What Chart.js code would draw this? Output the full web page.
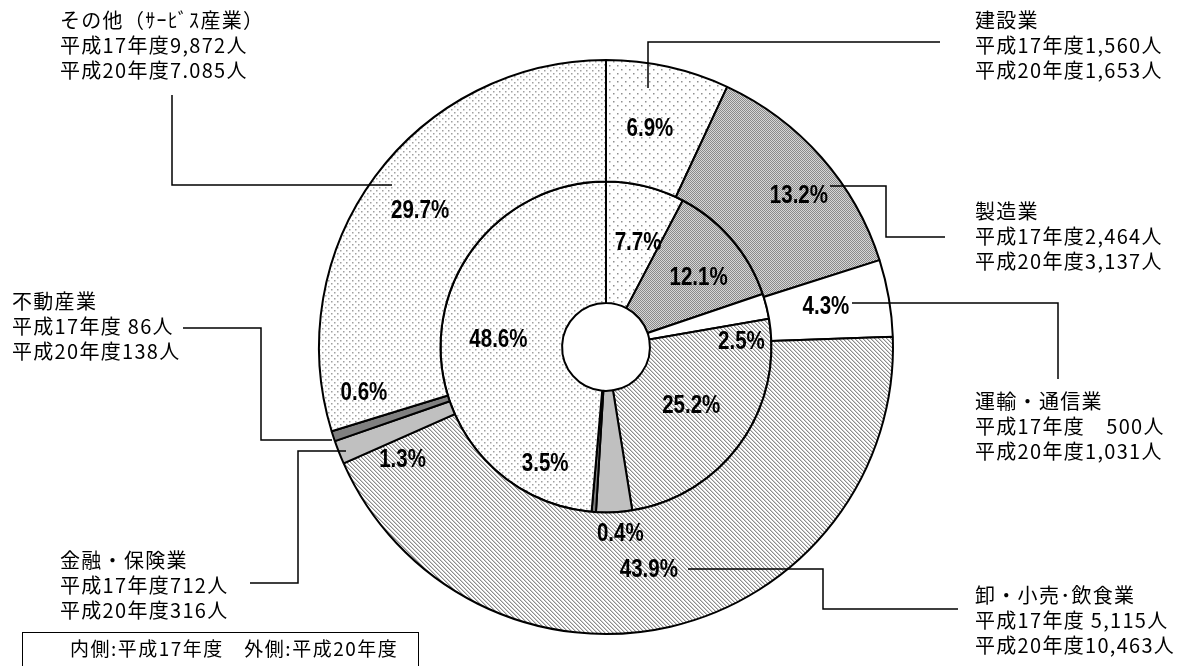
<!DOCTYPE html>
<html lang="ja">
<head>
<meta charset="utf-8">
<script src="https://cdn.jsdelivr.net/npm/chart.js@4/dist/chart.umd.min.js"></script>
<style>
  html, body { margin: 0; padding: 0; background: #fff; }
  #wrap { width: 1185px; height: 666px; }
</style>
</head>
<body>
<div id="wrap"><canvas id="pieChart" width="1185" height="666"></canvas></div>
<script>
// 産業別の人数（内側: 平成17年度、外側: 平成20年度）
const categories = ['建設業', '製造業', '運輸・通信業', '卸・小売･飲食業', '金融・保険業', '不動産業', 'その他（ｻｰﾋﾞｽ産業）'];
const h17 = [1560, 2464, 500, 5115, 712, 86, 9872];
const h20 = [1653, 3137, 1031, 10463, 316, 138, 7085];

// 吹き出しの人数表記（原図のまま）
const h17Text = ['1,560', '2,464', '　500', ' 5,115', '712', ' 86', '9,872'];
const h20Text = ['1,653', '3,137', '1,031', '10,463', '316', '138', '7.085'];

const FONT_JP = '"Noto Sans CJK JP", "Noto Sans", sans-serif';
const FONT_PCT = '"Liberation Sans", Arial, sans-serif';

const canvas = document.getElementById('pieChart');
const ctx = canvas.getContext('2d');

// 塗りパターン
function makePattern(size, draw) {
    const c = document.createElement('canvas');
    c.width = size;
    c.height = size;
    const p = c.getContext('2d');
    draw(p, size);
    return ctx.createPattern(c, 'repeat');
}

const sparseDots = makePattern(8, (p) => {
    p.fillStyle = '#fff';
    p.fillRect(0, 0, 8, 8);
    p.fillStyle = '#909090';
    p.fillRect(1, 1, 1.5, 1.5);
    p.fillRect(5, 5, 1.5, 1.5);
});

const denseDots = makePattern(6, (p) => {
    p.fillStyle = '#fff';
    p.fillRect(0, 0, 6, 6);
    p.fillStyle = '#a0a0a0';
    p.fillRect(1, 1, 1.5, 1.5);
    p.fillRect(4, 4, 1.5, 1.5);
});

const mesh = makePattern(2, (p) => {
    p.fillStyle = '#d6d6d6';
    p.fillRect(0, 0, 2, 2);
    p.fillStyle = '#8a8a8a';
    p.fillRect(0, 0, 1, 1);
    p.fillRect(1, 1, 1, 1);
});

const diagonal = makePattern(4, (p) => {
    p.fillStyle = '#fff';
    p.fillRect(0, 0, 4, 4);
    for (let i = 0; i < 4; i++) {
        p.fillStyle = '#8c8c8c';
        p.fillRect(i, i, 1, 1);
        p.fillStyle = '#cfcfcf';
        p.fillRect((i + 1) % 4, i, 1, 1);
    }
});

const fills = [sparseDots, mesh, '#ffffff', diagonal, '#c0c0c0', '#808080', denseDots];

// ラベル位置の微調整（扇形の中心からのずれ, px）
const outerNudge = [[-5, 3], [23, -2], [-3, -1], [-8, 3], [7, 30], [-27, -24], [-4, -1]];
const innerNudge = [[7, -2], [13, -1], [34, 21], [0, -2], [-66, 13], [22, 83], [-3, -2]];

// 吹き出しの配置と引き出し線
const callouts = [
    { x: 975, y: 10, line: [[940, 42], [648, 42], [648, 88]] },
    { x: 975, y: 201, line: [[830, 186], [886, 186], [886, 237], [945, 237]] },
    { x: 975, y: 391, line: [[852, 303], [1058, 303], [1058, 379]] },
    { x: 975, y: 585, line: [[688, 569], [823, 569], [823, 609], [958, 609]] },
    { x: 60, y: 550, line: [[250, 583], [298, 583], [298, 451], [346, 451]] },
    { x: 12, y: 291, line: [[183, 328], [261, 328], [261, 440], [332, 440]] },
    { x: 60, y: 10, line: [[172, 95], [172, 185], [392, 185]] }
];

const pctLabels = {
    id: 'pctLabels',
    afterDatasetsDraw(chart) {
        const c = chart.ctx;
        c.save();
        c.font = 'bold 25px ' + FONT_PCT;
        c.fillStyle = '#000';
        c.textAlign = 'center';
        c.textBaseline = 'middle';
        chart.data.datasets.forEach((ds, di) => {
            const total = ds.data.reduce((a, b) => a + b, 0);
            const nudge = di === 0 ? outerNudge : innerNudge;
            chart.getDatasetMeta(di).data.forEach((arc, i) => {
                const pos = arc.tooltipPosition();
                const pct = (ds.data[i] / total * 100).toFixed(1) + '%';
                c.save();
                c.translate(pos.x + nudge[i][0], pos.y + nudge[i][1]);
                c.scale(0.82, 1);
                c.fillText(pct, 0, 0);
                c.restore();
            });
        });
        c.restore();
    },
    afterDraw(chart) {
        const c = chart.ctx;
        c.save();
        // 引き出し線
        c.strokeStyle = '#000';
        c.lineWidth = 1.5;
        callouts.forEach((co) => {
            c.beginPath();
            co.line.forEach((pt, k) => k === 0 ? c.moveTo(pt[0], pt[1]) : c.lineTo(pt[0], pt[1]));
            c.stroke();
        });

        // 吹き出しの文字
        c.font = '20px ' + FONT_JP;
        c.letterSpacing = '1.3px';
        c.fillStyle = '#000';
        c.textAlign = 'left';
        c.textBaseline = 'top';
        callouts.forEach((co, i) => {
            const lines = [
                categories[i],
                '平成17年度' + h17Text[i] + '人',
                '平成20年度' + h20Text[i] + '人'
            ];
            lines.forEach((t, k) => c.fillText(t, co.x, co.y + k * 25));
        });

        // 凡例の枠
        c.lineWidth = 1;
        c.strokeRect(22.5, 632.5, 396, 40);
        c.font = '19px ' + FONT_JP;
        c.letterSpacing = '1.5px';
        c.textBaseline = 'middle';
        c.fillText('内側:平成17年度　外側:平成20年度', 70, 649);
        c.restore();
    }
};

new Chart(ctx, {
    type: 'doughnut',
    data: {
        labels: categories,
        datasets: [
            {
                label: '平成20年度',
                data: h20,
                backgroundColor: fills,
                borderColor: '#000',
                borderWidth: 2
            },
            {
                label: '平成17年度',
                data: h17,
                backgroundColor: fills,
                borderColor: '#000',
                borderWidth: 2
            }
        ]
    },
    options: {
        responsive: false,
        animation: false,
        cutout: '15.3%',
        layout: { padding: { top: 59, bottom: 31, left: 318, right: 291 } },
        plugins: {
            legend: { display: false },
            tooltip: { enabled: false }
        }
    },
    plugins: [pctLabels]
});
</script>
</body>
</html>
